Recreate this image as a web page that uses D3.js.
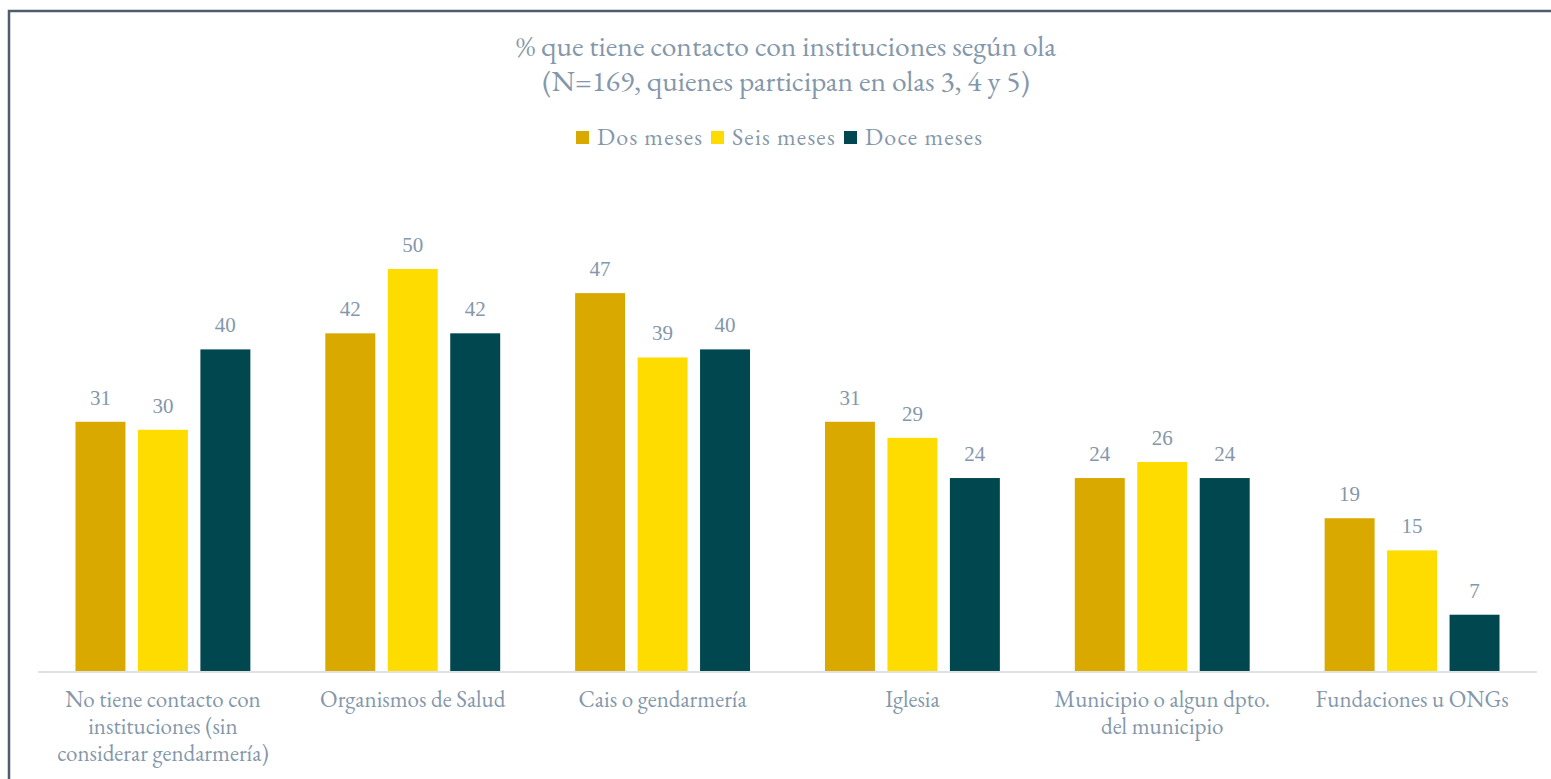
<!DOCTYPE html>
<html lang="es">
<head>
  <meta charset="UTF-8">
  <title>Contacto con instituciones</title>
  <script src="https://d3js.org/d3.v7.min.js"></script>
  <style>
    body {margin: 0; background: #fff;}
  </style>
</head>
<body>
<div id="chart"></div>
<script>
const categories = [
  ["No tiene contacto con", "instituciones  (sin", "considerar gendarmería)"],
  ["Organismos de Salud"],
  ["Cais o gendarmería"],
  ["Iglesia"],
  ["Municipio o algun dpto.", "del municipio"],
  ["Fundaciones u ONGs"]
];
const seriesNames = ["Dos meses", "Seis meses", "Doce meses"];
const dosMeses = [31, 42, 47, 31, 24, 19];
const seisMeses = [30, 50, 39, 29, 26, 15];
const doceMeses = [40, 42, 40, 24, 24, 7];
const colors = ["#d9a900", "#ffdc00", "#00474f"];

const FONT = "'EB Garamond', 'Liberation Serif', serif";
const NUMFONT = "'Liberation Serif', serif";
const TXT = "#8497ab";
const width = 1551, height = 779;
const svg = d3.select("#chart").append("svg")
  .attr("width", width).attr("height", height);

// frame
svg.append("path")
  .attr("d", `M9,${height} L9,11 L${width},11`)
  .attr("fill", "none").attr("stroke", "#4e5d6c").attr("stroke-width", 2.5);

const series = [dosMeses, seisMeses, doceMeses];
const x0 = d3.scaleBand().domain(d3.range(categories.length)).range([38, 1537]).paddingInner(0.3).paddingOuter(0.15);
const x1 = d3.scaleBand().domain(d3.range(3)).range([0, x0.bandwidth()]).paddingInner(0.2);
const y = d3.scaleLinear().domain([0, 60]).range([671, 671 - 60 * 8.04]);

function txt(sel) {
  return sel.style("font-family", FONT).attr("fill", TXT);
}

// title
const title = svg.append("text").call(txt).attr("text-anchor", "middle").attr("font-size", 29.5);
title.append("tspan").attr("x", 786).attr("y", 56).text("% que tiene contacto con instituciones según ola");
title.append("tspan").attr("x", 786).attr("y", 91).text("(N=169, quienes participan en olas 3, 4 y 5)");

// legend
const legendX = [576, 711, 844];
const lg = svg.selectAll(".lg").data(seriesNames).enter().append("g")
  .attr("transform", (d, i) => `translate(${legendX[i]},131)`);
lg.append("rect").attr("width", 13).attr("height", 13).attr("fill", (d, i) => colors[i]);
lg.append("text").call(txt).attr("x", 21).attr("y", 14).attr("font-size", 24)
  .attr("letter-spacing", 1.2).text(d => d);

// bars
const groups = svg.selectAll(".grp").data(categories).enter().append("g")
  .attr("transform", (d, i) => `translate(${x0(i)},0)`);
groups.each(function(c, ci) {
  const g = d3.select(this);
  series.forEach((s, si) => {
    g.append("rect")
      .attr("x", x1(si)).attr("y", y(s[ci]))
      .attr("width", x1.bandwidth()).attr("height", y(0) - y(s[ci]))
      .attr("fill", colors[si]);
    g.append("text")
      .style("font-family", NUMFONT).attr("fill", TXT)
      .attr("x", x1(si) + x1.bandwidth() / 2).attr("y", y(s[ci]) - 17)
      .attr("text-anchor", "middle").attr("font-size", 21)
      .text(s[ci]);
  });
});

// axis line
svg.append("line").attr("x1", 38).attr("x2", 1537).attr("y1", 672).attr("y2", 672)
  .attr("stroke", "#dde2e7").attr("stroke-width", 2);

// category labels
svg.selectAll(".cat").data(categories).enter().append("text")
  .call(txt).attr("text-anchor", "middle").attr("font-size", 23)
  .each(function(lines, i) {
    const t = d3.select(this);
    lines.forEach((l, li) => {
      t.append("tspan").attr("x", x0(i) + x0.bandwidth() / 2).attr("y", 707 + li * 27).text(l);
    });
  });
</script>
</body>
</html>
